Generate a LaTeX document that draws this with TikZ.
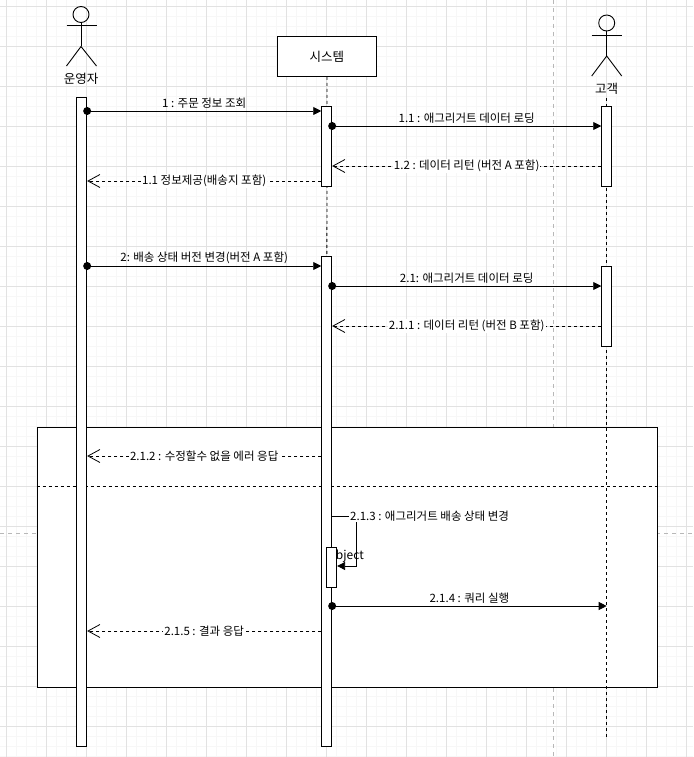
\documentclass[tikz,border=0pt]{standalone}
\usepackage{fontspec}
\setmainfont{Noto Sans CJK KR}
\usetikzlibrary{arrows.meta}
\definecolor{gridmajor}{HTML}{E2E2E2}
\definecolor{gridminor}{HTML}{F7F7F7}
\definecolor{pagebreak}{HTML}{B8B8B8}
\tikzset{
  bar/.style={draw, fill=white, line width=0.9pt, minimum width=10pt, inner sep=0pt, anchor=north},
  syncmsg/.style={line width=0.9pt, -{Triangle[length=8pt,width=8pt]}},
  retmsg/.style={line width=0.8pt, dash pattern=on 3pt off 3pt, -{Straight Barb[length=12pt,width=13pt,line width=0.8pt]}},
  lifeline/.style={line width=0.8pt, dash pattern=on 3pt off 3pt},
  msglabel/.style={font=\fontsize{11.5}{13}\selectfont, inner sep=1pt},
  retlabel/.style={msglabel, fill=white},
  startdot/.style={circle, fill, inner sep=0pt, minimum size=8pt},
  actorlabel/.style={font=\fontsize{12.5}{14}\selectfont, inner sep=0pt},
  actorline/.style={line width=0.9pt},
}
\begin{document}
\begin{tikzpicture}[x=1pt, y=-1pt]
\useasboundingbox (0,0) rectangle (693,757);
% background grid
\fill[white] (0,0) rectangle (693,757);
\foreach \g in {0,...,69} {
  \draw[gridminor, line width=0.6pt] (6.7+10*\g,0) -- (6.7+10*\g,757);
}
\foreach \g in {0,...,75} {
  \draw[gridminor, line width=0.6pt] (0,6.7+10*\g) -- (693,6.7+10*\g);
}
\foreach \g in {0,...,17} {
  \draw[gridmajor, line width=0.7pt] (6.7+40*\g,0) -- (6.7+40*\g,757);
}
\foreach \g in {0,...,18} {
  \draw[gridmajor, line width=0.7pt] (0,6.7+40*\g) -- (693,6.7+40*\g);
}
% page break lines
\draw[pagebreak, line width=0.7pt, dash pattern=on 4pt off 4pt] (553.3,0) -- (553.3,757);
\draw[pagebreak, line width=0.7pt, dash pattern=on 4pt off 4pt] (0,533.3) -- (693,533.3);

% combined fragment frame
\node[draw, fill=white, line width=0.9pt, minimum width=620pt, minimum height=260pt, inner sep=0pt, anchor=north west] (frame) at (36.5,426.5) {};
\draw[line width=0.8pt, dash pattern=on 3pt off 3pt] (frame.west |- 0,486) -- (frame.east |- 0,486);

% actor: operator
\draw[actorline] (81,14.5) circle (8);
\draw[actorline] (81,22.5) -- (81,46.5);
\draw[actorline] (66.5,25.5) -- (96.5,25.5);
\draw[actorline] (66.5,66) -- (81,46.5) -- (96.5,66);
\node[actorlabel] (oplabel) at (81,79) {운영자};

% actor: customer
\draw[actorline] (606.7,23) circle (8);
\draw[actorline] (606.7,31) -- (606.7,56);
\draw[actorline] (591.7,35) -- (621.7,35);
\draw[actorline] (591.7,76) -- (606.7,56) -- (621.7,76);
\node[actorlabel] (custlabel) at (606.7,89) {고객};

% system box
\node[draw, fill=white, line width=0.9pt, minimum width=99pt, minimum height=40pt, inner sep=0pt, anchor=north west, font=\fontsize{12.5}{14}\selectfont] (sys) at (277,36) {시스템};

% lifelines
\coordinate (sysend) at (326.7,746);
\coordinate (custtop) at (606.7,98);
\coordinate (custend) at (606.7,737);
\draw[lifeline] (sys.south) -- (sysend);
\draw[lifeline] (custtop) -- (custend);

% activation bars
\node[bar, minimum height=649pt] (opbar) at (81.7,97) {};
\node[bar, minimum height=80pt] (sysbar1) at (326.7,106) {};
\node[bar, minimum height=490pt] (sysbar2) at (326.7,256) {};
\node[bar, minimum height=80pt] (custbar1) at (606.7,106) {};
\node[bar, minimum height=80pt] (custbar2) at (606.7,266) {};

% message coordinates
\coordinate (m1s) at (opbar.east |- 0,111);
\coordinate (m1e) at (sysbar1.west |- 0,111);
\coordinate (m11s) at (sysbar1.east |- 0,126);
\coordinate (m11e) at (custbar1.west |- 0,126);
\coordinate (m12s) at (custbar1.west |- 0,166);
\coordinate (m12e) at (sysbar1.east |- 0,166);
\coordinate (r11s) at (sysbar1.west |- 0,181);
\coordinate (r11e) at (opbar.east |- 0,181);
\coordinate (m2s) at (opbar.east |- 0,266);
\coordinate (m2e) at (sysbar2.west |- 0,266);
\coordinate (m21s) at (sysbar2.east |- 0,286);
\coordinate (m21e) at (custbar2.west |- 0,286);
\coordinate (m211s) at (custbar2.west |- 0,326);
\coordinate (m211e) at (sysbar2.east |- 0,326);
\coordinate (m212s) at (sysbar2.west |- 0,456);
\coordinate (m212e) at (opbar.east |- 0,456);
\coordinate (m213s) at (sysbar2.east |- 0,516);
\coordinate (m213a) at (356.7,516);
\coordinate (m213b) at (356.7,566);
\coordinate (m214s) at (sysbar2.east |- 0,606);
\coordinate (m214e) at (606.7,606);
\coordinate (m215s) at (sysbar2.west |- 0,631);
\coordinate (m215e) at (opbar.east |- 0,631);

% self call: object text and small bar
\node[anchor=west, font=\fontsize{12}{14}\selectfont, inner sep=0pt] (objtext) at (328.5,556) {object};
\node[bar, minimum height=40pt] (selfbar) at (331.7,546.7) {};
\coordinate (m213e) at (selfbar.east |- 0,566);

% messages
\draw[syncmsg] (m1s) -- node[msglabel, above=1pt] {1 : 주문 정보 조회} (m1e);
\draw[syncmsg] (m11s) -- node[msglabel, above=1pt] {1.1 : 애그리거트 데이터 로딩} (m11e);
\draw[retmsg] (m12s) -- node[retlabel] {1.2 : 데이터 리턴 (버전 A 포함)} (m12e);
\draw[retmsg] (r11s) -- node[retlabel] {1.1 정보제공(배송지 포함)} (r11e);
\draw[syncmsg] (m2s) -- node[msglabel, above=1pt] {2: 배송 상태 버전 변경(버전 A 포함)} (m2e);
\draw[syncmsg] (m21s) -- node[msglabel, above=1pt] {2.1: 애그리거트 데이터 로딩} (m21e);
\draw[retmsg] (m211s) -- node[retlabel] {2.1.1 : 데이터 리턴 (버전 B 포함)} (m211e);
\draw[retmsg] (m212s) -- node[retlabel] {2.1.2 : 수정할수 없을 에러 응답} (m212e);
\draw[line width=0.9pt, -{Triangle[length=8pt,width=8pt]}] (m213s) -- (m213a) -- (m213b) -- (m213e);
\node[retlabel, anchor=west] (l213) at (349,516) {2.1.3 : 애그리거트 배송 상태 변경};
\draw[syncmsg] (m214s) -- node[msglabel, above=1pt] {2.1.4 : 쿼리 실행} (m214e);
\draw[retmsg] (m215s) -- node[retlabel] {2.1.5 : 결과 응답} (m215e);

% start dots
\foreach \p in {m1s,m11s,m2s,m21s,m214s} {
  \node[startdot] at (\p) {};
}
\end{tikzpicture}
\end{document}
